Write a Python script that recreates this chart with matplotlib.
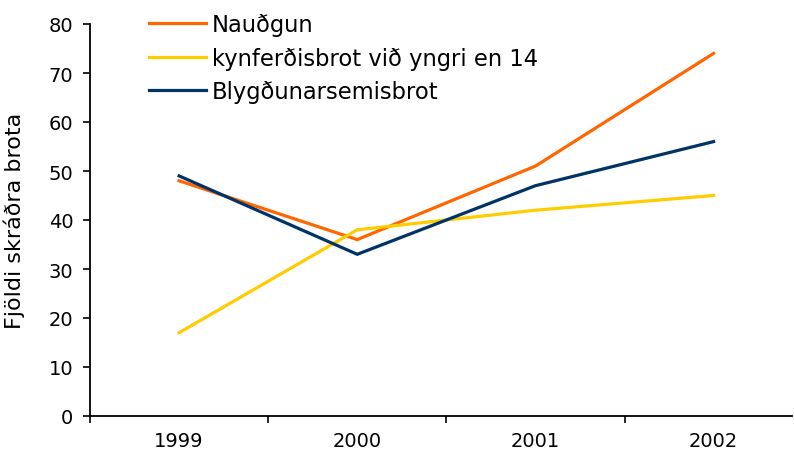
import matplotlib
matplotlib.use("Agg")
import matplotlib.pyplot as plt

# Gögn
years = ["1999", "2000", "2001", "2002"]
naudgun = [48, 36, 51, 74]
kynferdisbrot = [17, 38, 42, 45]
blygdunarsemisbrot = [49, 33, 47, 56]

series_names = ["Nauðgun", "kynferðisbrot við yngri en 14", "Blygðunarsemisbrot"]
colors = ["#FF6600", "#FFCC00", "#003366"]

plt.rcParams['font.family'] = ['DejaVu Sans']

fig = plt.figure(figsize=(7.94, 4.56), dpi=100)
ax = fig.add_axes([90 / 794, 1 - 417 / 456, 702 / 794, 392 / 456])

x = range(len(years))
for vals, name, col in zip([naudgun, kynferdisbrot, blygdunarsemisbrot], series_names, colors):
    ax.plot(x, vals, color=col, linewidth=2.3, label=name, solid_joinstyle='miter')

ax.set_ylim(0, 80)
ax.set_yticks(range(0, 81, 10))
ax.set_xlim(-0.5, 3.44)
ax.set_xticks([i - 0.5 for i in range(len(years))])
ax.set_xticklabels([])
ax.set_xticks(list(x), minor=True)
ax.set_xticklabels(years, minor=True)
ax.tick_params(axis='x', which='minor', length=0, pad=11, labelsize=14)
ax.tick_params(axis='x', which='major', length=5, direction='out', width=1.2)
ax.tick_params(axis='y', length=5, direction='out', width=1.2, labelsize=14, pad=7)

for side in ['top', 'right']:
    ax.spines[side].set_visible(False)
ax.spines['left'].set_linewidth(1.3)
ax.spines['bottom'].set_linewidth(1.3)

ax.set_ylabel("Fjöldi skráðra brota", fontsize=16)
ax.yaxis.set_label_coords(-65 / 702, 0.5)

fig.legend(loc='upper left', bbox_to_anchor=(149 / 794, 1 - 14 / 456), frameon=False,
           fontsize=16.3, handlelength=2.5, handletextpad=0.27, labelspacing=0.47,
           borderpad=0, borderaxespad=0)

fig.savefig("out.png", dpi=100)
